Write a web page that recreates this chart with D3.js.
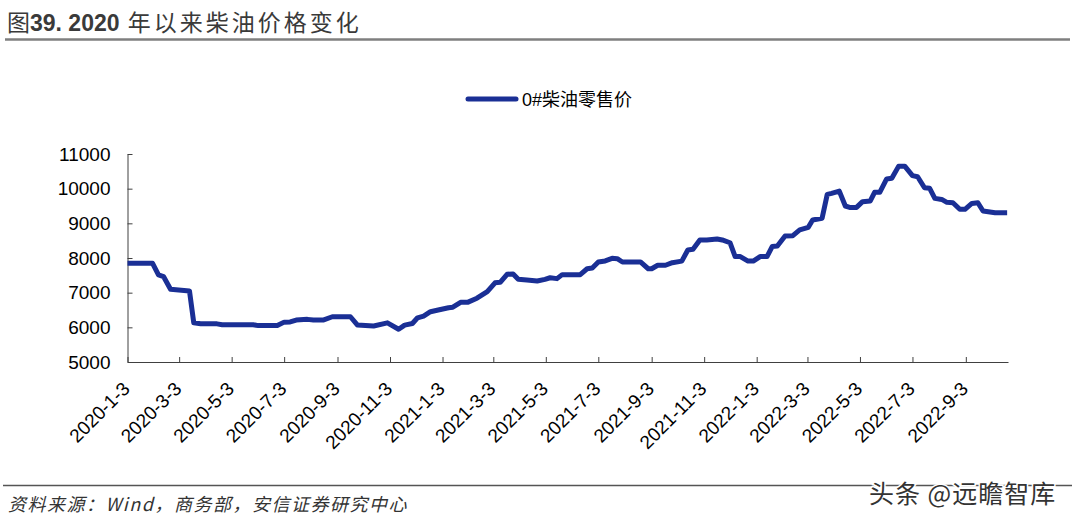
<!DOCTYPE html>
<html>
<head>
<meta charset="utf-8">
<script src="https://cdn.jsdelivr.net/npm/d3@7"></script>
<style>
  html, body { margin: 0; padding: 0; background: #fff; }
  svg { display: block; }
</style>
</head>
<body>
<svg id="chart" width="1080" height="523"></svg>
<script>
const title = "图39. 2020 年以来柴油价格变化";
const seriesName = "0#柴油零售价";
const source = "资料来源：Wind，商务部，安信证券研究中心";
const watermark = "头条 @远瞻智库";

const dates = [
  "2020-01-03","2020-02-01","2020-02-08","2020-02-14","2020-02-22","2020-03-15","2020-03-20","2020-03-28",
  "2020-04-16","2020-04-22","2020-05-28","2020-06-03","2020-06-25","2020-07-03","2020-07-10","2020-07-17",
  "2020-07-30","2020-08-06","2020-08-18","2020-08-28","2020-09-18","2020-09-26","2020-10-15","2020-10-31",
  "2020-11-13","2020-11-20","2020-11-29","2020-12-05","2020-12-12","2020-12-20","2020-12-29","2021-01-10",
  "2021-01-15","2021-01-24","2021-02-01","2021-02-12","2021-02-24","2021-03-05","2021-03-11","2021-03-19",
  "2021-03-26","2021-04-01","2021-04-11","2021-04-23","2021-05-02","2021-05-08","2021-05-16","2021-05-22",
  "2021-06-12","2021-06-20","2021-06-26","2021-07-03","2021-07-11","2021-07-19","2021-07-25","2021-07-31",
  "2021-08-21","2021-08-30","2021-09-03","2021-09-10","2021-09-19","2021-09-27","2021-10-08","2021-10-15",
  "2021-10-21","2021-10-29","2021-11-06","2021-11-18","2021-11-24","2021-12-03","2021-12-09","2021-12-15",
  "2021-12-24","2021-12-30","2022-01-07","2022-01-15","2022-01-21","2022-01-27","2022-02-05","2022-02-14",
  "2022-02-22","2022-03-04","2022-03-09","2022-03-20","2022-03-26","2022-03-31","2022-04-09","2022-04-16",
  "2022-04-21","2022-04-29","2022-05-06","2022-05-15","2022-05-20","2022-05-26","2022-06-03","2022-06-09",
  "2022-06-17","2022-06-24","2022-07-03","2022-07-09","2022-07-17","2022-07-23","2022-07-29","2022-08-06",
  "2022-08-12","2022-08-19","2022-08-27","2022-09-02","2022-09-10","2022-09-17","2022-09-23","2022-10-07",
  "2022-10-21"
];
const prices = [
  7850,7850,7510,7460,7100,7050,6130,6105,
  6100,6075,6075,6050,6050,6150,6155,6210,
  6230,6210,6215,6305,6305,6070,6040,6130,
  5945,6065,6110,6275,6325,6450,6500,6565,
  6580,6720,6720,6840,7030,7285,7300,7530,
  7540,7385,7365,7335,7385,7430,7405,7520,
  7520,7690,7710,7885,7915,7990,7980,7885,
  7885,7690,7690,7790,7790,7865,7910,8230,
  8250,8520,8520,8550,8520,8440,8040,8040,
  7910,7910,8040,8040,8330,8345,8635,8645,
  8810,8885,9095,9145,9835,9865,9930,9500,
  9460,9460,9625,9645,9895,9895,10280,10300,
  10650,10650,10375,10345,10025,10010,9720,9690,
  9605,9595,9405,9405,9575,9595,9355,9305,
  9305
];
const xTickLabels = ["2020-1-3","2020-3-3","2020-5-3","2020-7-3","2020-9-3","2020-11-3","2021-1-3",
  "2021-3-3","2021-5-3","2021-7-3","2021-9-3","2021-11-3","2022-1-3","2022-3-3","2022-5-3","2022-7-3","2022-9-3"];
const yTicks = [5000,6000,7000,8000,9000,10000,11000];
const xDomain = ["2020-01-03","2022-10-22"];

(function () {
const parse = d3.timeParse("%Y-%m-%d");
const data = dates.map((d,i) => ({date: parse(d), value: prices[i]}));

const svg = d3.select("#chart");
const font = "'Liberation Sans', Arial, 'Noto Sans CJK SC', sans-serif";
const cjk = "'Noto Sans CJK SC', sans-serif";

const mLeft = 127.5, mRight = 1008, mTop = 154, mBottom = 362;

const x = d3.scaleTime().domain(xDomain.map(parse)).range([mLeft, mRight]);
const y = d3.scaleLinear().domain([5000, 11000]).range([mBottom, mTop]);

// Title
const t = svg.append("text").attr("x", 7).attr("y", 31)
  .attr("font-size", 23).attr("fill", "#3a3a3a").attr("font-family", cjk);
t.append("tspan").text("图").attr("font-weight", "normal");
t.append("tspan").text("39. 2020").attr("font-weight", "bold").attr("font-family", font);
t.append("tspan").text(" 年以来柴油价格变化").attr("font-weight", "normal").attr("letter-spacing", 3);
svg.append("line").attr("x1", 5).attr("x2", 1070).attr("y1", 39.5).attr("y2", 39.5)
  .attr("stroke", "#7f7f7f").attr("stroke-width", 2.5);

// Y axis
const yAxis = d3.axisLeft(y).tickValues(yTicks).tickSizeInner(-5).tickSizeOuter(0).tickPadding(17)
  .tickFormat(d3.format("d"));
const gy = svg.append("g").attr("transform", `translate(${mLeft},0)`).call(yAxis);
gy.selectAll("text").attr("font-family", font).attr("font-size", 19).attr("fill", "#000");
gy.selectAll("line").attr("stroke", "#404040");
gy.select(".domain").attr("stroke", "#404040");

// X axis
const xTickDates = xTickLabels.map(s => {
  const [yy, mm, dd] = s.split("-");
  return parse(`${yy}-${mm.padStart(2,"0")}-${dd.padStart(2,"0")}`);
});
const xAxis = d3.axisBottom(x).tickValues(xTickDates).tickSizeInner(-5).tickSizeOuter(0)
  .tickFormat((d,i) => xTickLabels[i]);
const gx = svg.append("g").attr("transform", `translate(0,${mBottom})`).call(xAxis);
gx.selectAll("line").attr("stroke", "#404040");
gx.select(".domain").attr("stroke", "#404040");
gx.selectAll("text")
  .attr("font-family", font).attr("font-size", 19).attr("fill", "#000")
  .attr("text-anchor", "end").attr("dy", 0)
  .attr("transform", "translate(3,28) rotate(-45)")
  .attr("y", 0).attr("x", 0);

// Line
const line = d3.line().x(d => x(d.date)).y(d => y(d.value));
svg.append("path").datum(data).attr("d", line)
  .attr("fill", "none").attr("stroke", "#1a2f95").attr("stroke-width", 5)
  .attr("stroke-linejoin", "round");

// Legend
svg.append("line").attr("x1", 468).attr("x2", 516).attr("y1", 99).attr("y2", 99)
  .attr("stroke", "#1a2f95").attr("stroke-width", 5).attr("stroke-linecap", "round");
svg.append("text").attr("x", 522).attr("y", 106).text(seriesName)
  .attr("font-family", font).attr("font-size", 18).attr("fill", "#000");

// Footer
svg.append("line").attr("x1", 3).attr("x2", 1072).attr("y1", 485.5).attr("y2", 485.5)
  .attr("stroke", "#555").attr("stroke-width", 1.5);
svg.append("text").attr("x", 8).attr("y", 511).text(source)
  .attr("font-family", cjk).attr("font-size", 18).attr("font-style", "italic").attr("fill", "#333")
  .attr("letter-spacing", 1.5);
svg.append("text").attr("x", 869).attr("y", 503).text(watermark)
  .attr("text-anchor", "start").attr("letter-spacing", 1)
  .attr("font-family", cjk).attr("font-size", 25).attr("fill", "#333")
  .attr("stroke", "#fff").attr("stroke-width", 3).attr("paint-order", "stroke");
})();
</script>
</body>
</html>
